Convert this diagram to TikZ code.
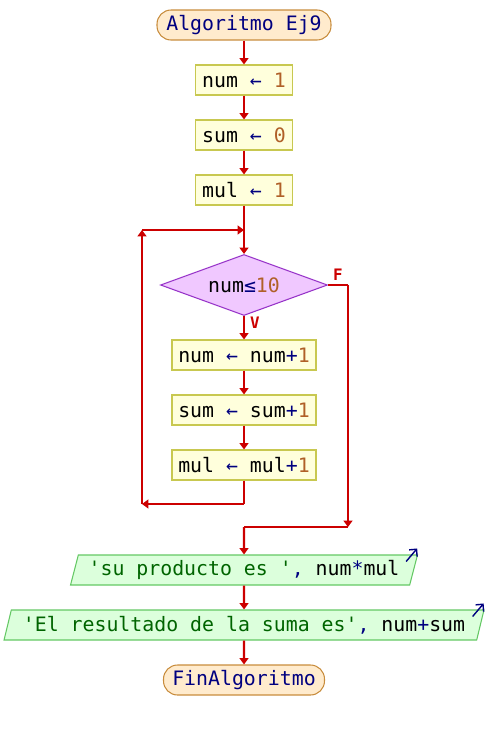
\documentclass[tikz,border=0pt]{standalone}
\usepackage{fontspec}
\setmonofont{DejaVu Sans Mono}
\usetikzlibrary{shapes.geometric,arrows.meta}

\definecolor{rojo}{RGB}{204,0,0}
\definecolor{azul}{RGB}{0,0,128}
\definecolor{nro}{RGB}{176,96,40}
\definecolor{verde}{RGB}{0,100,0}
\definecolor{termfondo}{RGB}{255,235,205}
\definecolor{termborde}{RGB}{200,140,60}
\definecolor{asigfondo}{RGB}{255,255,220}
\definecolor{asigborde}{RGB}{200,200,80}
\definecolor{decifondo}{RGB}{240,200,255}
\definecolor{deciborde}{RGB}{150,50,200}
\definecolor{salfondo}{RGB}{220,255,220}
\definecolor{salborde}{RGB}{100,200,100}

\tikzset{
  terminal/.style={draw=termborde,fill=termfondo,line width=0.6pt,rounded corners=0.28cm,minimum height=0.6cm,inner sep=0pt},
  asig/.style={draw=asigborde,fill=asigfondo,line width=0.6pt,minimum height=0.6cm,inner sep=0pt},
  decision/.style={diamond,draw=deciborde,fill=decifondo,line width=0.6pt,aspect=2.7,inner sep=0pt,minimum width=3.34cm,minimum height=1.22cm},
  salida/.style={trapezium,trapezium left angle=68,trapezium right angle=112,trapezium stretches body,draw=salborde,fill=salfondo,line width=0.6pt,minimum height=0.6cm,inner sep=0pt},
  linea/.style={rojo,line width=1.2pt},
  flecha/.style={linea,->},
  rotulo/.style={rojo,font=\ttfamily\bfseries\fontsize{9}{10}\selectfont,inner sep=0pt},
  >={Triangle[length=3.6pt,width=5pt]}
}

\begin{document}
\begin{tikzpicture}[x=0.02cm,y=-0.02cm,font=\ttfamily\fontsize{11.3}{13}\selectfont]
      \useasboundingbox (0,0) rectangle (488,730);
      \node[terminal,minimum width=3.48cm] (ini) at (244,25) {\textcolor{azul}{Algoritmo Ej9}};
      \node[asig,minimum width=1.94cm] (a1) at (244,80) {num \textcolor{azul}{←} \textcolor{nro}{1}};
      \node[asig,minimum width=1.94cm] (a2) at (244,135) {sum \textcolor{azul}{←} \textcolor{nro}{0}};
      \node[asig,minimum width=1.94cm] (a3) at (244,190) {mul \textcolor{azul}{←} \textcolor{nro}{1}};
      \node[decision] (cond) at (244,285) {num\textcolor{azul}{≤}\textcolor{nro}{10}};
      \node[asig,minimum width=2.88cm] (b1) at (244,355) {num \textcolor{azul}{←} num\textcolor{azul}{+}\textcolor{nro}{1}};
      \node[asig,minimum width=2.88cm] (b2) at (244,410) {sum \textcolor{azul}{←} sum\textcolor{azul}{+}\textcolor{nro}{1}};
      \node[asig,minimum width=2.88cm] (b3) at (244,465) {mul \textcolor{azul}{←} mul\textcolor{azul}{+}\textcolor{nro}{1}};
      \node[salida,minimum width=6.94cm] (out1) at (244,570) {\textcolor{verde}{'su producto es '}\textcolor{azul}{,} num\textcolor{azul}{*}mul};
      \node[salida,minimum width=9.6cm] (out2) at (244,625) {\textcolor{verde}{'El resultado de la suma es'}\textcolor{azul}{,} num\textcolor{azul}{+}sum};
      \node[terminal,minimum width=3.22cm] (fin) at (244,680) {\textcolor{azul}{FinAlgoritmo}};
      % puntos de quiebre
      \coordinate (jn1) at (244,230);
      \coordinate (lp1) at (244,504);
      \coordinate (lp2) at (142,504);
      \coordinate (lp3) at (142,230);
      \coordinate (fx) at (348,285);
      \coordinate (fy) at (348,527);
      \coordinate (jn2) at (244,527);
      \draw[flecha] (ini) -- (a1);
      \draw[flecha] (a1) -- (a2);
      \draw[flecha] (a2) -- (a3);
      \draw[linea] (a3) -- (jn1);
      \draw[flecha] (jn1) -- (cond);
      \draw[flecha] (cond) -- (b1);
      \draw[flecha] (b1) -- (b2);
      \draw[flecha] (b2) -- (b3);
      \draw[linea] (b3) -- (lp1);
      \draw[flecha] (lp1) -- (lp2);
      \draw[flecha] (lp2) -- (lp3);
      \draw[flecha] (lp3) -- (jn1);
      \draw[linea] (cond.east) -- (fx);
      \draw[flecha] (fx) -- (fy);
      \draw[linea] (jn2) -- (fy);
      \draw[flecha] (jn2) -- (out1);
      \draw[flecha] (out1) -- (out2);
      \draw[flecha] (out2) -- (fin);
      \node[rotulo] (lf) at (338,275) {F};
      \node[rotulo] (lv) at (255,323) {V};
      % flechitas de salida
      \draw[azul,line width=0.8pt,-{Straight Barb[length=3pt]}] ([xshift=-0.24cm,yshift=-0.14cm]out1.top right corner) -- ++(11,-13);
      \draw[azul,line width=0.8pt,-{Straight Barb[length=3pt]}] ([xshift=-0.24cm,yshift=-0.14cm]out2.top right corner) -- ++(11,-13);
\end{tikzpicture}
\end{document}
